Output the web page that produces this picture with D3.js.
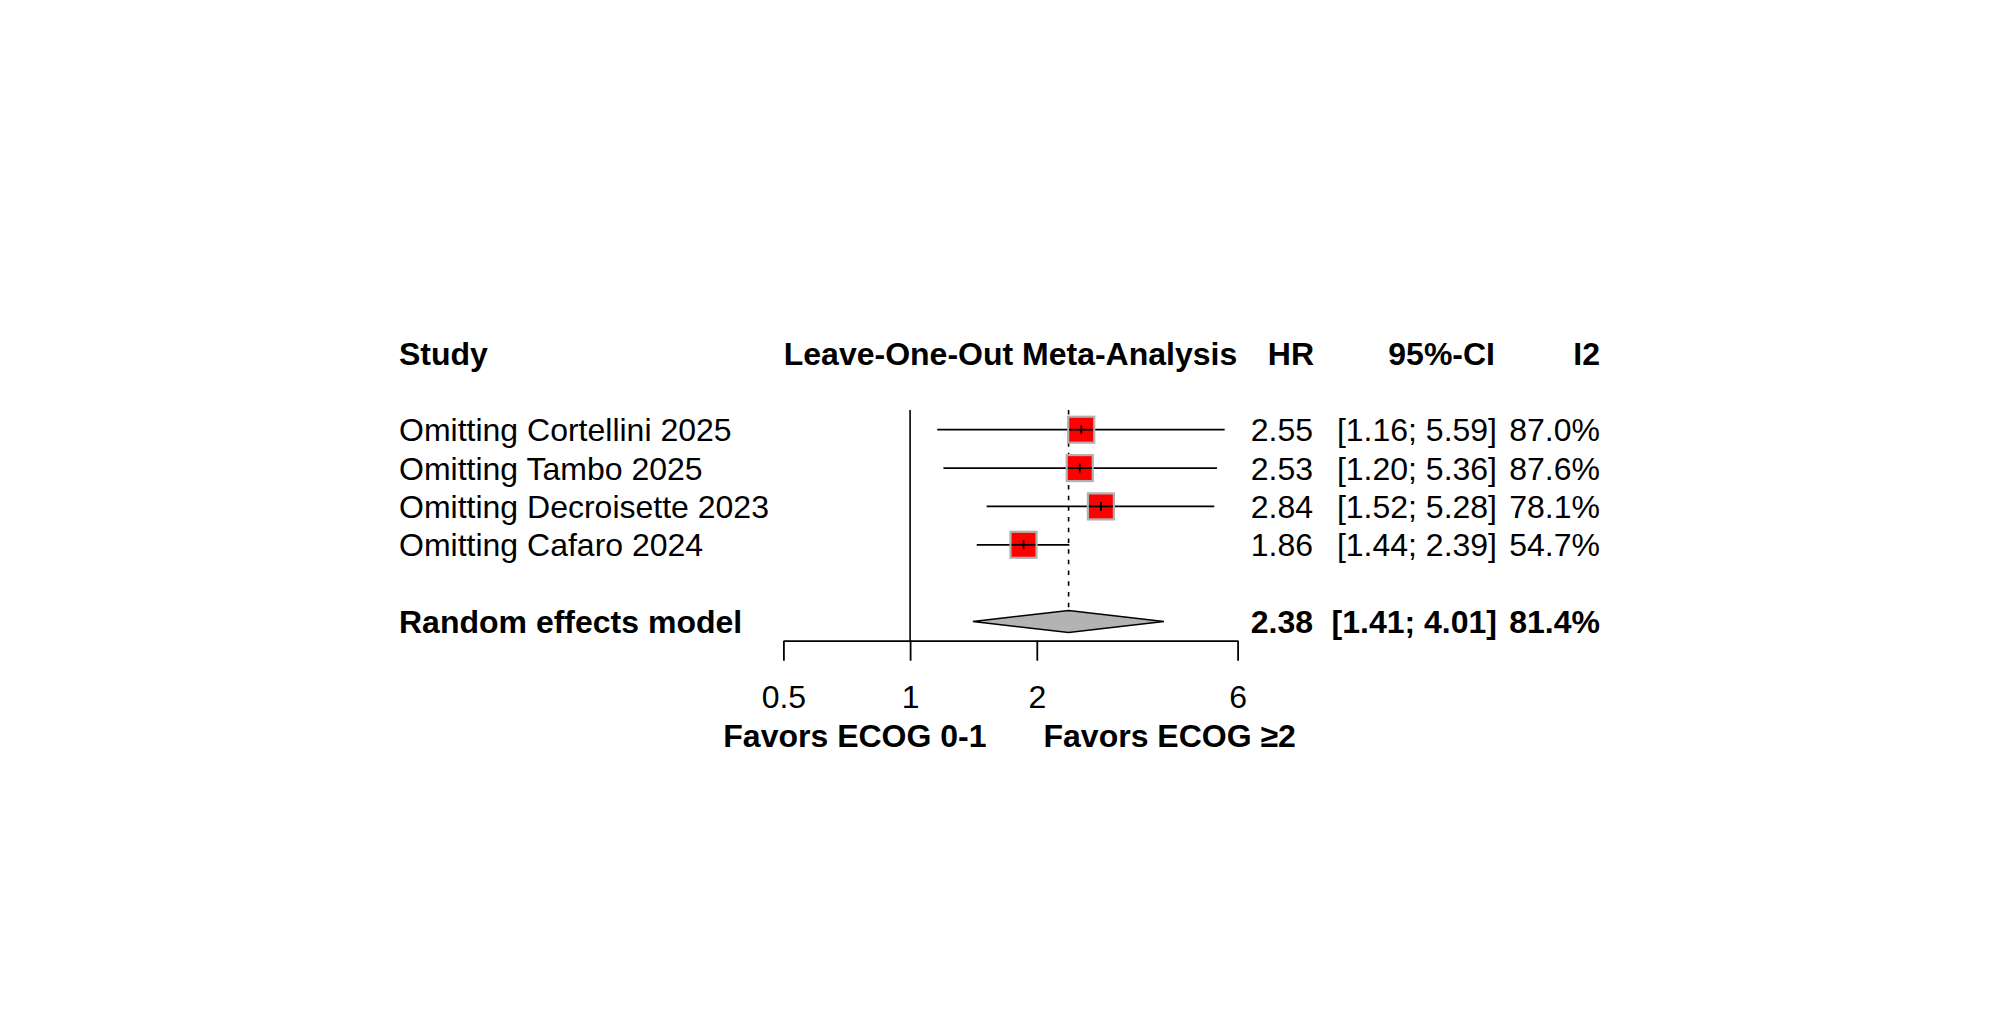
<!DOCTYPE html>
<html>
<head>
<meta charset="utf-8">
<script src="https://cdn.jsdelivr.net/npm/d3@7"></script>
<style>
  body { margin: 0; background: white; }
  text { font-family: "Liberation Sans", Arial, sans-serif; font-size: 32px; fill: black; }
</style>
</head>
<body>
<div id="forest"></div>
<script>
const WIDTH = 2000
const HEIGHT = 1012

// study rows
const studies = ["Omitting Cortellini 2025", "Omitting Tambo 2025", "Omitting Decroisette 2023", "Omitting Cafaro 2024"]
const hr = [2.55, 2.53, 2.84, 1.86]
const lower = [1.16, 1.20, 1.52, 1.44]
const upper = [5.59, 5.36, 5.28, 2.39]
const i2 = [87.0, 87.6, 78.1, 54.7]

// pooled estimate
const pooledLabel = "Random effects model"
const pooledHr = 2.38
const pooledLower = 1.41
const pooledUpper = 4.01
const pooledI2 = 81.4

const xTicks = [0.5, 1, 2, 6]
const headers = ["Study", "Leave-One-Out Meta-Analysis", "HR", "95%-CI", "I2"]
const labelLeft = "Favors ECOG 0-1"
const labelRight = "Favors ECOG \u22652"

const svg = d3.select("#forest").append("svg")
  .attr("width", WIDTH)
  .attr("height", HEIGHT)

svg.append("rect")
  .attr("width", "100%")
  .attr("height", "100%")
  .attr("fill", "white")

const x = d3.scaleLog()
  .domain([0.5, 6])
  .range([783.4, 1237.6])

// row 0 = header, 2..5 = studies, 7 = pooled
const y = d3.scaleLinear()
  .domain([0, 7])
  .range([353, 621.5])

const rowH = y(1) - y(0)
const axisY = y(7) + rowH / 2
const baseOff = 11.5

const fmt = d3.format(".2f")
const fmtI2 = d => d3.format(".1f")(d) + "%"

const COL = { STUDY: 399, HR: 1313, CI: 1497, I2: 1600 }

// headers
const head = svg.append("g").style("font-weight", "bold")
head.append("text").attr("x", COL.STUDY).attr("y", y(0) + baseOff).text(headers[0])
head.append("text").attr("x", (x(0.5) + x(6)) / 2).attr("y", y(0) + baseOff)
  .attr("text-anchor", "middle").text(headers[1])
head.append("text").attr("x", COL.HR + 1).attr("y", y(0) + baseOff).attr("text-anchor", "end").text(headers[2])
head.append("text").attr("x", COL.CI - 2).attr("y", y(0) + baseOff).attr("text-anchor", "end").text(headers[3])
head.append("text").attr("x", COL.I2).attr("y", y(0) + baseOff).attr("text-anchor", "end").text(headers[4])

// reference line at 1
svg.append("line")
  .attr("x1", x(1)).attr("x2", x(1))
  .attr("y1", y(2) - rowH / 2 - 0.5).attr("y2", axisY)
  .attr("stroke", "black").attr("stroke-width", 1.6)

// pooled dashed line
svg.append("line")
  .attr("x1", x(pooledHr)).attr("x2", x(pooledHr))
  .attr("y1", y(2) - rowH / 2 - 0.5).attr("y2", y(7) - 11)
  .attr("stroke", "black").attr("stroke-width", 1.6)
  .attr("stroke-dasharray", "4.5,6.2")

const rows = svg.append("g")
  .selectAll("g")
  .data(studies)
  .enter()
  .append("g")
  .attr("transform", (d, i) => `translate(0, ${y(i + 2)})`)

rows.append("text")
  .attr("x", COL.STUDY)
  .attr("y", baseOff)
  .text(d => d)

rows.append("line")
  .attr("x1", (d, i) => x(lower[i]))
  .attr("x2", (d, i) => x(upper[i]))
  .attr("stroke", "black")
  .attr("stroke-width", 1.8)

rows.append("rect")
  .attr("x", (d, i) => x(hr[i]) - 13)
  .attr("y", -13)
  .attr("width", 26)
  .attr("height", 26)
  .attr("fill", "#ff0000")
  .attr("stroke", "#b0b0b0")
  .attr("stroke-width", 2.2)

// CI line drawn across the square again, plus the small tick at the estimate
rows.append("line")
  .attr("x1", (d, i) => Math.max(x(lower[i]), x(hr[i]) - 12))
  .attr("x2", (d, i) => Math.min(x(upper[i]), x(hr[i]) + 12))
  .attr("stroke", "black")
  .attr("stroke-width", 1.8)

rows.append("line")
  .attr("x1", (d, i) => x(hr[i])).attr("x2", (d, i) => x(hr[i]))
  .attr("y1", -4.5).attr("y2", 4.5)
  .attr("stroke", "black")
  .attr("stroke-width", 1.8)

rows.append("text")
  .attr("x", COL.HR).attr("y", baseOff).attr("text-anchor", "end")
  .text((d, i) => fmt(hr[i]))

rows.append("text")
  .attr("x", COL.CI).attr("y", baseOff).attr("text-anchor", "end")
  .text((d, i) => "[" + fmt(lower[i]) + "; " + fmt(upper[i]) + "]")

rows.append("text")
  .attr("x", COL.I2).attr("y", baseOff).attr("text-anchor", "end")
  .text((d, i) => fmtI2(i2[i]))

// pooled row
const pooled = svg.append("g")
  .attr("transform", `translate(0, ${y(7)})`)

pooled.append("path")
  .attr("d", `M${x(pooledLower)},0 L${x(pooledHr)},-11 L${x(pooledUpper)},0 L${x(pooledHr)},11 Z`)
  .attr("fill", "#b3b3b3")
  .attr("stroke", "black")
  .attr("stroke-width", 1.6)

const pooledText = pooled.append("g").style("font-weight", "bold")
pooledText.append("text").attr("x", COL.STUDY).attr("y", baseOff).text(pooledLabel)
pooledText.append("text").attr("x", COL.HR).attr("y", baseOff).attr("text-anchor", "end").text(fmt(pooledHr))
pooledText.append("text").attr("x", COL.CI).attr("y", baseOff).attr("text-anchor", "end")
  .text("[" + fmt(pooledLower) + "; " + fmt(pooledUpper) + "]")
pooledText.append("text").attr("x", COL.I2).attr("y", baseOff).attr("text-anchor", "end").text(fmtI2(pooledI2))

// x axis
const xAxis = svg.append("g")
  .attr("transform", `translate(0, ${axisY})`)
  .call(d3.axisBottom(x).tickValues(xTicks).tickFormat(d3.format("")).tickSize(20).tickPadding(0).tickSizeOuter(0))

xAxis.select(".domain").attr("stroke-width", 1.8)
xAxis.selectAll(".tick line").attr("stroke-width", 1.8)
xAxis.selectAll(".tick text")
  .attr("y", 67.5)
  .attr("dy", null)
  .style("font-size", "32px")
  .style("font-family", "'Liberation Sans', Arial, sans-serif")
  .attr("fill", "black")

const mid = (x(0.5) + x(6)) / 2
svg.append("text")
  .attr("x", mid - 24).attr("y", axisY + 106)
  .attr("text-anchor", "end")
  .style("font-weight", "bold")
  .text(labelLeft)

svg.append("text")
  .attr("x", mid + 33).attr("y", axisY + 106)
  .style("font-weight", "bold")
  .text(labelRight)
</script>
</body>
</html>
